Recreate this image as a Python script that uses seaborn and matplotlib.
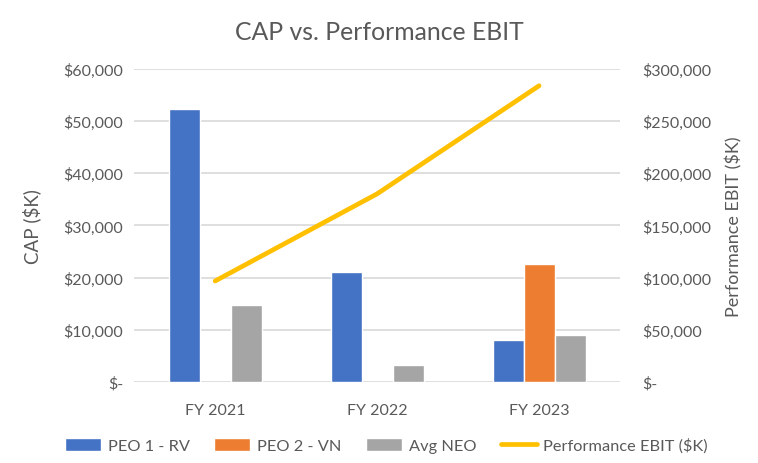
import numpy as np
import pandas as pd
import matplotlib
matplotlib.use('Agg')
import matplotlib.pyplot as plt
import matplotlib.ticker as mticker
from matplotlib.patches import Patch
from matplotlib.lines import Line2D
import seaborn as sns

# data
years = ['FY 2021', 'FY 2022', 'FY 2023']
series = ['PEO 1 - RV', 'PEO 2 - VN', 'Avg NEO']
peo1_rv = [52300, 21100, 8100]
peo2_vn = [np.nan, np.nan, 22650]
avg_neo = [14800, 3300, 9070]
ebit = [96700, 180300, 284000]

colors = {'PEO 1 - RV': '#4472C4', 'PEO 2 - VN': '#ED7D31', 'Avg NEO': '#A5A5A5'}
line_color = '#FFC000'
text_color = '#595959'
grid_color = '#D9D9D9'


def money(v, pos=None):
    if v == 0:
        return '$-'
    return f'${v:,.0f}'


def main():
    sns.set_theme(style='white')
    plt.rcParams['font.family'] = ['Lato', 'DejaVu Sans']

    df = pd.DataFrame({
        'year': years * 3,
        'series': [s for s in series for _ in years],
        'value': peo1_rv + peo2_vn + avg_neo,
    })

    fig = plt.figure(figsize=(7.58, 4.64), dpi=100)
    ax = fig.add_axes([0.177, 0.175, 0.641, 0.674])
    sns.barplot(data=df, x='year', y='value', hue='series', order=years,
                hue_order=series, palette=colors, width=0.575, saturation=1,
                ax=ax, legend=False)

    ax.set_ylim(0, 60000)
    ax.set_yticks(np.arange(0, 60001, 10000))
    ax.yaxis.set_major_formatter(mticker.FuncFormatter(money))
    ax.set_xlim(-0.5, 2.5)
    ax.grid(axis='y', color=grid_color, linewidth=1.2)
    ax.set_axisbelow(True)
    for s in ax.spines.values():
        s.set_visible(False)
    ax.tick_params(axis='y', length=0, labelsize=11.5, colors=text_color, pad=8)
    ax.tick_params(axis='x', length=0, labelsize=11.5, colors=text_color, pad=15)
    ax.set_xlabel('')
    ax.set_ylabel('CAP ($K)', fontsize=13.5, color=text_color, labelpad=16)

    ax2 = ax.twinx()
    sns.lineplot(x=np.arange(len(years)), y=ebit, ax=ax2, color=line_color,
                 linewidth=3.4, solid_capstyle='round')
    ax2.set_ylim(0, 300000)
    ax2.set_yticks(np.arange(0, 300001, 50000))
    ax2.yaxis.set_major_formatter(mticker.FuncFormatter(money))
    for s in ax2.spines.values():
        s.set_visible(False)
    ax2.tick_params(axis='y', length=0, labelsize=11.5, colors=text_color, pad=16)
    ax2.set_ylabel('Performance EBIT ($K)', fontsize=13, color=text_color,
                   labelpad=10)

    fig.suptitle('CAP vs. Performance EBIT', y=0.955, fontsize=17.8,
                 color=text_color)

    handles = [Patch(facecolor=colors[s], label=s) for s in series]
    handles.append(Line2D([], [], color=line_color, linewidth=3.4,
                          solid_capstyle='round', label='Performance EBIT ($K)'))
    fig.legend(handles=handles, loc='center', bbox_to_anchor=(0.51, 0.038),
               ncol=4, frameon=False, fontsize=11.8, labelcolor=text_color,
               handlelength=2.2, handleheight=0.9, columnspacing=1.5,
               handletextpad=0.4)

    fig.savefig('out.png', dpi=100)


if __name__ == '__main__':
    main()
